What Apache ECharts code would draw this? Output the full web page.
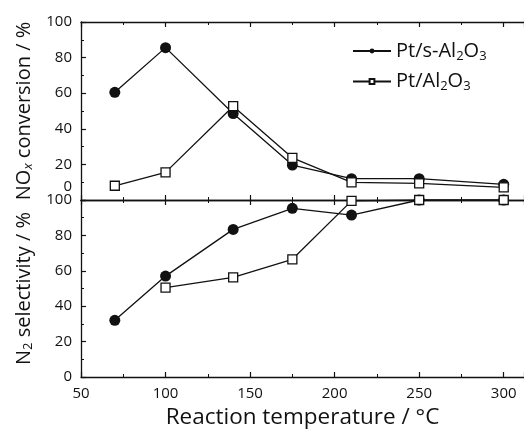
<!DOCTYPE html>
<html>
<head>
<meta charset="utf-8">
<script src="https://cdn.jsdelivr.net/npm/echarts@6/dist/echarts.min.js"></script>
<style>
html, body { margin: 0; padding: 0; background: #fff; }
#chart { width: 524px; height: 433px; }
</style>
</head>
<body>
<div id="chart"></div>
<script>
// Reaction temperatures (°C)
const temperatures = [70, 100, 140, 175, 210, 250, 300];

// NOx conversion (%)
const noxSAl2O3 = [60.5, 85.6, 48.6, 19.6, 12, 12, 8.8];
const noxAl2O3 = [8, 15.5, 52.7, 23.7, 9.9, 9.3, 7.1];

// N2 selectivity (%)
const n2SAl2O3 = [32, 57, 83.4, 95.3, 91.5, 100, 100];
const n2Al2O3 = [null, 50.5, 56.3, 66.5, 99.5, 100, 100];

const xTicks = [50, 100, 150, 200, 250, 300];
const yTicks = [0, 20, 40, 60, 80, 100];

const seriesNames = ['Pt/s-Al2O3', 'Pt/Al2O3'];
const legendLabels = {
  'Pt/s-Al2O3': 'Pt/s-Al{s|2}O{s|3}',
  'Pt/Al2O3': 'Pt/Al{s|2}O{s|3}'
};

const FONT = 'Open Sans';
const INK = '#111';

const pairs = (xs, ys) => xs.map((x, i) => [x, ys[i]]).filter(p => p[1] !== null);

function xAxisBase(gridIndex, position, extra) {
  return Object.assign({
    type: 'value', gridIndex, position,
    min: xTicks[0], max: 312, interval: 50,
    axisLine: { show: true, lineStyle: { color: INK, width: 1.3 } },
    axisTick: { show: true, inside: true, length: 5, lineStyle: { color: INK, width: 1.2 } },
    minorTick: { show: true, splitNumber: 2, length: 3, lineStyle: { color: INK, width: 1 } },
    axisLabel: { show: false },
    splitLine: { show: false }
  }, extra || {});
}

function yAxisBase(gridIndex, extra) {
  return Object.assign({
    type: 'value', gridIndex, position: 'left',
    min: yTicks[0], max: yTicks[yTicks.length - 1], interval: 20,
    axisLine: { show: true, lineStyle: { color: INK, width: 1.3 } },
    axisTick: { show: true, inside: true, length: 5, lineStyle: { color: INK, width: 1.2 } },
    minorTick: { show: true, splitNumber: 2, length: 3, lineStyle: { color: INK, width: 1 } },
    splitLine: { show: false },
    nameLocation: 'middle',
    nameGap: 46,
    nameTextStyle: {
      fontFamily: FONT, fontSize: 20, color: INK,
      rich: {
        s: { fontFamily: FONT, fontSize: 13, color: INK, verticalAlign: 'bottom', padding: [9, 0, 0, 0] },
        i: { fontFamily: FONT, fontSize: 13, color: INK, fontStyle: 'italic', verticalAlign: 'bottom', padding: [9, 0, 0, 0] }
      }
    }
  }, extra || {});
}

const circleStyle = {
  type: 'line', symbol: 'circle', symbolSize: 11,
  lineStyle: { color: INK, width: 1.3 },
  itemStyle: { color: INK, borderColor: INK, borderWidth: 0 },
  z: 2
};
const squareStyle = {
  type: 'line', symbol: 'rect', symbolSize: 9,
  lineStyle: { color: INK, width: 1.3 },
  itemStyle: { color: '#fff', borderColor: INK, borderWidth: 1.3 },
  z: 3
};

const option = {
  backgroundColor: '#fff',
  animation: false,
  textStyle: { fontFamily: FONT, color: INK },
  grid: [
    { left: 81, top: 22, right: 0, height: 178 },
    { left: 81, top: 200, right: 0, height: 177 }
  ],
  legend: {
    orient: 'vertical', left: 347, top: 36, itemGap: 9,
    itemWidth: 38, itemHeight: 6,
    data: seriesNames,
    formatter: name => legendLabels[name],
    textStyle: {
      fontFamily: FONT, fontSize: 20, color: INK, padding: [0, 0, 0, 0],
      rich: { s: { fontFamily: FONT, fontSize: 13, color: INK, verticalAlign: 'bottom', padding: [10, 0, 0, 0] } }
    }
  },
  xAxis: [
    xAxisBase(0, 'bottom'),
    xAxisBase(0, 'top'),
    xAxisBase(1, 'bottom', {
      axisLabel: { show: true, fontFamily: FONT, fontSize: 15, color: INK, margin: 9, showMaxLabel: false },
      name: 'Reaction temperature / °C',
      nameLocation: 'middle', nameGap: 29,
      nameTextStyle: { fontFamily: FONT, fontSize: 22.5, color: INK }
    }),
    xAxisBase(1, 'top')
  ],
  yAxis: [
    yAxisBase(0, {
      name: 'NO{i|x} conversion / %',
      axisLabel: {
        fontFamily: FONT, fontSize: 15, color: INK, margin: 9,
        formatter: v => (v === 0 ? '{z|0}' : String(v)),
        rich: { z: { fontFamily: FONT, fontSize: 15, color: INK, padding: [0, 0, 26, 0] } }
      }
    }),
    yAxisBase(1, {
      name: 'N{s|2} selectivity / %',
      axisLabel: { fontFamily: FONT, fontSize: 15, color: INK, margin: 9 }
    })
  ],
  series: [
    Object.assign({ name: seriesNames[0], xAxisIndex: 0, yAxisIndex: 0, data: pairs(temperatures, noxSAl2O3) }, circleStyle),
    Object.assign({ name: seriesNames[1], xAxisIndex: 0, yAxisIndex: 0, data: pairs(temperatures, noxAl2O3) }, squareStyle),
    Object.assign({ name: seriesNames[0], xAxisIndex: 2, yAxisIndex: 1, data: pairs(temperatures, n2SAl2O3) }, circleStyle),
    Object.assign({ name: seriesNames[1], xAxisIndex: 2, yAxisIndex: 1, data: pairs(temperatures, n2Al2O3) }, squareStyle)
  ]
};

const chart = echarts.init(document.getElementById('chart'), null, { renderer: 'canvas' });
chart.setOption(option);
</script>
</body>
</html>
